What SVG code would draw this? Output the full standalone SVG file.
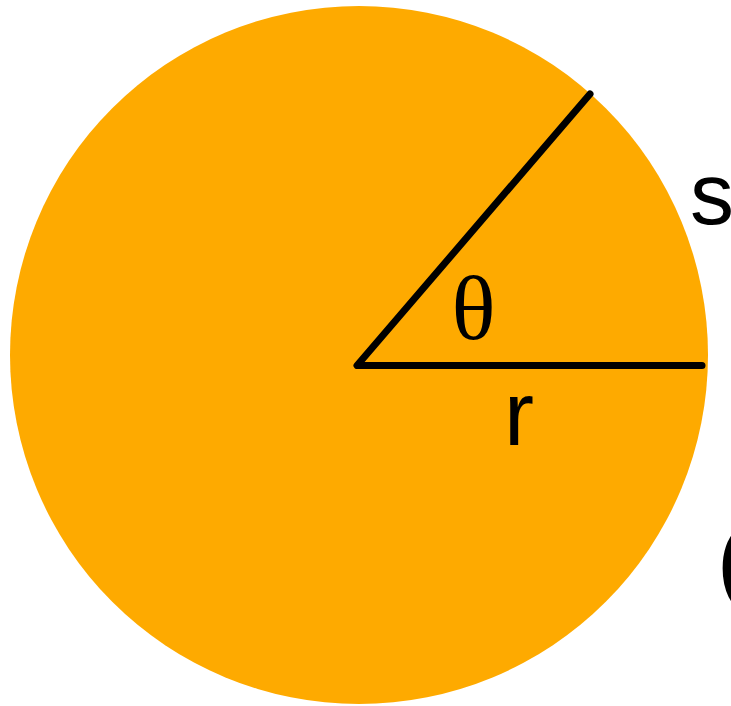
<svg xmlns="http://www.w3.org/2000/svg" width="731" height="706" viewBox="0 0 731 706">
<style>
.lbl{font-family:"Liberation Sans",Arial,sans-serif;fill:#000}
.greek{font-family:"Liberation Serif","Times New Roman",serif;fill:#000}
.edge{fill:none;stroke:#000;stroke-width:7;stroke-linecap:round;stroke-linejoin:round}
</style>
<rect width="731" height="706" fill="#fff"/>
<g id="circle">
<circle cx="359" cy="355" r="349" fill="#FEAA00"/>
</g>
<g id="connectors">
<polyline class="edge" points="590,94 357,365.5 702,365.5"/>
</g>
<g id="label-theta">
<text class="greek" x="473.5" y="339" font-size="92" text-anchor="middle">θ</text>
</g>
<g id="label-r">
<text class="lbl" x="504" y="445" font-size="90">r</text>
</g>
<g id="label-s">
<text class="lbl" x="690" y="224" font-size="88">s</text>
</g>
<g id="label-c">
<text class="lbl" x="715" y="621" font-size="150">C</text>
</g>
</svg>
